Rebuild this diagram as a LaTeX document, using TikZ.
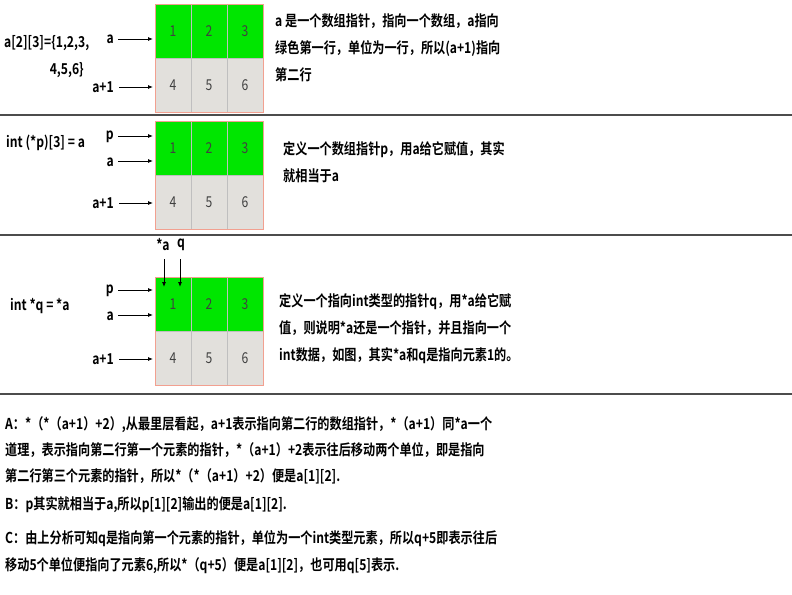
\documentclass[tikz,border=0pt]{standalone}
\usepackage{fontspec}
\setmainfont{Noto Sans CJK SC}[BoldFont={* Bold},FakeStretch=0.81]
\usetikzlibrary{arrows.meta}
\definecolor{grn}{HTML}{00E600}
\definecolor{gry}{HTML}{E2E0DC}
\definecolor{edge}{HTML}{F2A090}
\tikzset{
  lbl/.style={font=\bfseries\fontsize{15}{27}\selectfont, inner sep=0pt},
  cell/.style={font=\fontsize{15}{16}\selectfont, text=black!75},
  ptr/.style={-{Latex[length=5pt,width=4pt]}, line width=0.8pt},
  sep/.style={line width=1.2pt, black!70},
}
\newcommand{\grid}[2]{%
  \fill[grn] (155,#1) rectangle (263,#1+54);
  \fill[gry] (155,#1+54) rectangle (263,#1+108);
  \draw[black!25] (191,#1) -- (191,#1+108) (227,#1) -- (227,#1+108) (155,#1+54) -- (263,#1+54);
  \draw[edge, line width=0.8pt] (155,#1) rectangle (263,#1+108);
  \node[cell] (#2c1) at (173,#1+27) {1};
  \node[cell] (#2c2) at (209,#1+27) {2};
  \node[cell] (#2c3) at (245,#1+27) {3};
  \node[cell] (#2c4) at (173,#1+81) {4};
  \node[cell] (#2c5) at (209,#1+81) {5};
  \node[cell] (#2c6) at (245,#1+81) {6};
}
\begin{document}
\begin{tikzpicture}[x=1pt,y=-1pt]
\useasboundingbox (0,0) rectangle (792,594);
\fill[white] (0,0) rectangle (792,594);
\draw[sep] (0,115) -- (792,115);
\draw[sep] (0,235) -- (792,235);
\draw[sep] (0,394) -- (792,394);
% panel 1
\grid{4}{g}
\node[lbl, anchor=west] (d1) at (4,43) {a[2][3]=\{1,2,3,};
\node[lbl, anchor=east] (d1b) at (84,70) {4,5,6\}};
\node[lbl, anchor=east] (pa1) at (114,39) {a};
\coordinate (ta1) at (153,39);
\draw[ptr] (118,39) -- (ta1);
\node[lbl, anchor=east] (pb1) at (114,87) {a+1};
\coordinate (tb1) at (153,87);
\draw[ptr] (119,87) -- (tb1);
\node[lbl, anchor=west, align=left] (t1) at (275,48) {a 是一个数组指针，指向一个数组，a指向\\绿色第一行，单位为一行，所以(a+1)指向\\第二行};
% panel 2
\grid{121}{h}
\node[lbl, anchor=west] (d2) at (6,143) {int (*p)[3] = a};
\node[lbl, anchor=east] (pp2) at (114,137) {p};
\coordinate (tp2) at (153,136);
\draw[ptr] (118,136) -- (tp2);
\node[lbl, anchor=east] (pa2) at (114,162) {a};
\coordinate (ta2) at (153,161);
\draw[ptr] (118,161) -- (ta2);
\node[lbl, anchor=east] (pb2) at (114,203) {a+1};
\coordinate (tb2) at (153,203);
\draw[ptr] (119,203) -- (tb2);
\node[lbl, anchor=west, align=left] (t2) at (283,162) {定义一个数组指针p，用a给它赋值，其实\\就相当于a};
% panel 3
\grid{277}{k}
\node[lbl, anchor=west] (d3) at (10,306) {int *q = *a};
\node[lbl] (sa) at (163,245) {*a};
\node[lbl] (sq) at (181,245) {q};
\coordinate (tsa) at (164,287);
\coordinate (tsq) at (180,287);
\draw[ptr] (164,259) -- (tsa);
\draw[ptr] (180,259) -- (tsq);
\node[lbl, anchor=east] (pp3) at (114,291) {p};
\coordinate (tp3) at (153,290);
\draw[ptr] (118,290) -- (tp3);
\node[lbl, anchor=east] (pa3) at (114,316) {a};
\coordinate (ta3) at (153,315);
\draw[ptr] (118,315) -- (ta3);
\node[lbl, anchor=east] (pb3) at (114,359) {a+1};
\coordinate (tb3) at (153,359);
\draw[ptr] (119,359) -- (tb3);
\node[lbl, anchor=west, align=left] (t3) at (279,329) {定义一个指向int类型的指针q，用*a给它赋\\值，则说明*a还是一个指针，并且指向一个\\int数据，如图，其实*a和q是指向元素1的。};
% bottom text
\node[lbl, anchor=base west] (A1) at (5,429) {A：*（*（a+1）+2）,从最里层看起，a+1表示指向第二行的数组指针，*（a+1）同*a一个};
\node[lbl, anchor=base west] (A2) at (5,455) {道理，表示指向第二行第一个元素的指针，*（a+1）+2表示往后移动两个单位，即是指向};
\node[lbl, anchor=base west] (A3) at (5,481) {第二行第三个元素的指针，所以*（*（a+1）+2）便是a[1][2].};
\node[lbl, anchor=base west] (B1) at (5,509) {B：p其实就相当于a,所以p[1][2]输出的便是a[1][2].};
\node[lbl, anchor=base west] (C1) at (5,543) {C：由上分析可知q是指向第一个元素的指针，单位为一个int类型元素，所以q+5即表示往后};
\node[lbl, anchor=base west] (C2) at (5,570) {移动5个单位便指向了元素6,所以*（q+5）便是a[1][2]，也可用q[5]表示.};
\end{tikzpicture}
\end{document}
